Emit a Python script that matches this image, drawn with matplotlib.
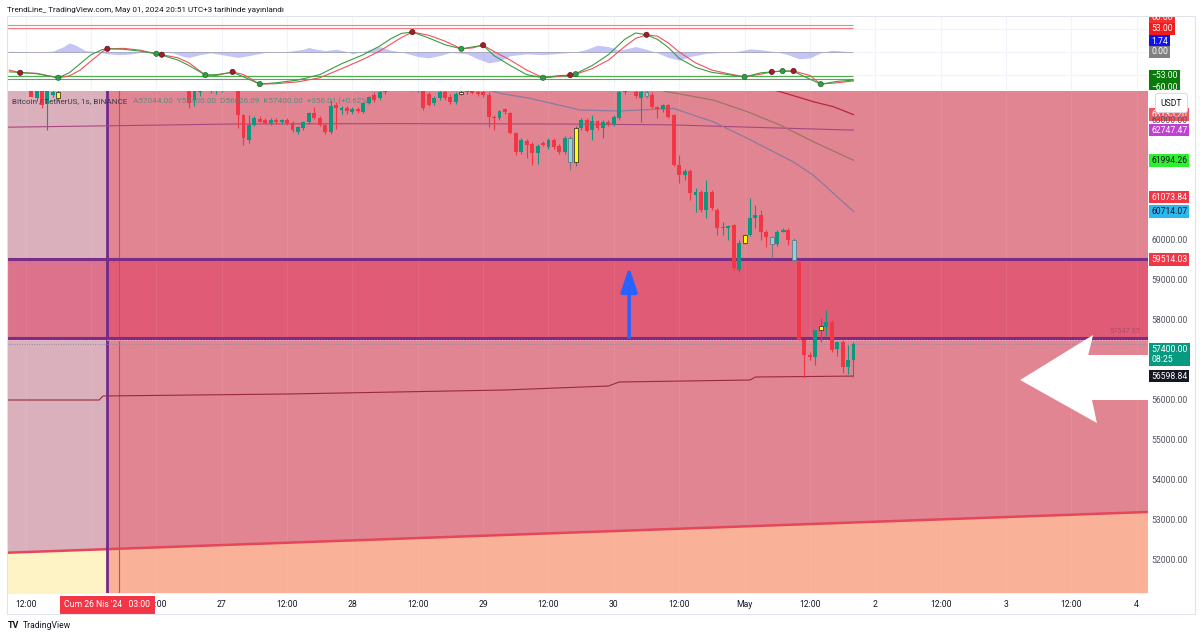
import numpy as np
import matplotlib
matplotlib.use("Agg")
import matplotlib.pyplot as plt
from matplotlib.patches import Polygon, Rectangle
from matplotlib.transforms import blended_transform_factory

plt.rcParams['font.family'] = ['Roboto', 'DejaVu Sans']

# hourly BTCUSDT candles, hour index counted from 25 Apr 2024 00:00
first_hour = 9
opens = [64250, 64150, 64050, 64000, 63950, 63550, 63800, 63400, 63620, 63700,
         63800, 63950, 64050, 64200, 64350, 64300, 64400, 64500, 64450, 64300,
         64250, 64200, 64100, 64150, 64250, 64300, 64150, 64050, 64100, 63950,
         64000, 63900, 63850, 63850, 63500, 63700, 63850, 63900, 63750, 63800,
         63900, 63950, 63900, 63125, 62500, 62875, 63025, 62990, 62920, 63000,
         62940, 63000, 62930, 62700, 62800, 62950, 63175, 63050, 62875, 62700,
         63375, 63250, 63300, 63200, 63280, 63200, 63425, 63625, 63550, 63700,
         63850, 63950, 63900, 64000, 63900, 63780, 63750, 63650, 63425, 63550,
         63700, 63575, 63450, 63650, 63700, 63800, 63700, 63700, 63625, 63075,
         63050, 63275, 63175, 62675, 62200, 62475, 62400, 62175, 62425, 62325,
         62500, 62350, 62200, 62550, 61950, 62800, 63000, 62750, 62975, 62800,
         62950, 62900, 63050, 63700, 63900, 63700, 63550, 63700, 63625, 63325,
         63275, 63375, 63125, 61875, 61625, 61725, 61125, 61200, 60750, 61200,
         60750, 60300, 60310, 60375, 59250, 59925, 60125, 60550, 60625, 60200,
         60075, 59900, 60230, 60250, 60000, 59450, 57500, 57125, 57075, 57750,
         57825, 57950, 57275, 57450, 56825, 57000]
highs = [64400, 64300, 64200, 64150, 64050, 63900, 63850, 63800, 63800, 63900,
         64000, 64100, 64250, 64400, 64500, 64450, 64600, 64650, 64550, 64400,
         64350, 64300, 64250, 64300, 64400, 64350, 64250, 64200, 64150, 64100,
         64050, 64000, 63950, 63950, 63800, 63900, 64000, 63950, 63900, 63950,
         64000, 64050, 63950, 63150, 63125, 63100, 63100, 63050, 63050, 63050,
         63020, 63050, 62980, 62850, 62980, 63200, 63320, 63100, 62900, 63500,
         63450, 63350, 63350, 63320, 63320, 63450, 63600, 63700, 63800, 63900,
         64000, 64100, 64050, 64100, 63950, 63900, 63800, 63700, 63600, 63750,
         63750, 63650, 63700, 63760, 63850, 63850, 63780, 63750, 63700, 63120,
         63250, 63300, 63200, 62700, 62550, 62520, 62450, 62400, 62480, 62550,
         62550, 62400, 62600, 62600, 62850, 63050, 63050, 63125, 63000, 63000,
         63000, 63125, 63800, 64000, 64100, 63900, 63800, 63800, 63700, 63350,
         63400, 63400, 63150, 62125, 61780, 61780, 61300, 61250, 61500, 61250,
         60800, 60450, 60375, 60400, 60000, 60150, 61050, 60875, 60750, 60250,
         60100, 60250, 60300, 60300, 60050, 59500, 57500, 57200, 57750, 58050,
         58250, 58000, 57450, 57500, 57375, 57450]
lows = [64100, 64000, 63900, 63850, 63600, 63480, 63300, 62750, 63580, 63480,
        63750, 63850, 64000, 64100, 64250, 64150, 64300, 64350, 64250, 64150,
        64100, 64050, 63950, 64050, 64150, 64100, 64000, 63950, 63900, 63850,
        63850, 63800, 63750, 63300, 63350, 63600, 63750, 63680, 63650, 63700,
        63800, 63850, 62800, 62375, 62425, 62850, 62950, 62900, 62880, 62900,
        62900, 62880, 62700, 62650, 62750, 62900, 63030, 62850, 62650, 62650,
        62780, 63150, 63150, 63150, 63180, 63180, 63400, 63450, 63500, 63650,
        63800, 63850, 63800, 63850, 63720, 63700, 63250, 63350, 63380, 63500,
        63500, 63400, 63400, 63620, 63650, 63640, 63600, 63580, 62825, 62750,
        63000, 63150, 62650, 62125, 62150, 62050, 61875, 61900, 62350, 62280,
        62280, 62150, 62150, 61750, 61850, 62750, 62700, 62500, 62750, 62550,
        62850, 62850, 63000, 63650, 63800, 63550, 62950, 63550, 63300, 63050,
        63200, 63050, 61850, 61425, 61500, 61000, 60700, 60700, 60550, 60750,
        60125, 60125, 60000, 59250, 59200, 59900, 60100, 60300, 60000, 59825,
        59550, 59850, 60200, 59875, 59450, 57500, 56550, 57000, 56875, 57450,
        57600, 57200, 57100, 56675, 56650, 56575]
closes = [64150, 64050, 64000, 63950, 63575, 63800, 63380, 63750, 63700, 63550,
          63950, 64050, 64200, 64350, 64300, 64400, 64500, 64450, 64300, 64250,
          64200, 64100, 64150, 64250, 64300, 64150, 64050, 64100, 63950, 64000,
          63900, 63850, 63800, 63420, 63750, 63850, 63900, 63720, 63800, 63900,
          63950, 63900, 63125, 62550, 62875, 63050, 62950, 62920, 63000, 62940,
          63000, 62930, 62750, 62820, 62950, 63175, 63050, 62875, 62700, 63350,
          63300, 63300, 63225, 63280, 63230, 63425, 63575, 63500, 63700, 63850,
          63950, 63900, 64000, 63900, 63780, 63850, 63300, 63375, 63550, 63700,
          63550, 63450, 63650, 63700, 63800, 63680, 63650, 63620, 63075, 63050,
          63225, 63200, 62675, 62200, 62500, 62375, 62175, 62350, 62375, 62500,
          62325, 62200, 62550, 61950, 62800, 63000, 62725, 62975, 62800, 62950,
          62900, 63075, 63700, 63900, 63950, 63600, 63700, 63600, 63325, 63275,
          63375, 63075, 61875, 61625, 61725, 61175, 61200, 60750, 61200, 60800,
          60300, 60330, 60340, 59300, 59925, 60125, 60550, 60625, 60200, 60075,
          59900, 60200, 60260, 60000, 59500, 57500, 57125, 57075, 57750, 57850,
          57950, 57250, 57450, 56825, 57000, 57400]
hours = np.arange(first_hour, first_hour + len(opens))

# signal candles painted by the indicator
yellow_bars = [18, 92, 113, 144, 158]
cyan_bars = [112, 126, 149, 153]
hollow_bars = [151]

# moving averages (hour, price)
ma_magenta_h = [8.5, 30, 50, 80, 110, 130, 145, 164]
ma_magenta_p = [62820, 62860, 62900, 62910, 62900, 62880, 62820, 62747]
ma_grey_h = [93, 99.1, 104.6, 113.8, 121.1, 130.9, 138.2, 144.5, 152.9, 156.6, 164]
ma_grey_p = [63900, 63667, 63542, 63250, 63225, 63292, 62958, 62542, 61958, 61625, 60714]
ma_brown_h = [127, 129.8, 138.2, 144.5, 150.5, 156.6, 164]
ma_brown_p = [63800, 63708, 63500, 63208, 62875, 62458, 61994]
ma_red_h = [148, 150.5, 153.6, 156.6, 160.3, 164]
ma_red_p = [63800, 63708, 63583, 63458, 63333, 63135]
trail_h = [8.5, 25.5, 26.2, 60, 100, 119, 121, 145, 146, 164]
trail_p = [56000, 56000, 56100, 56150, 56250, 56350, 56450, 56500, 56575, 56598]

# long trend line and zones
trend_h = [0, 220]
trend_p = [52140, 53210]
zone_top = 59514.03
zone_bottom = 57547.35
zone_start = 27          # Cum 26 Nis '24 03:00
last_price = 57400.00

# oscillator
osc_h = [9, 11, 14, 18, 20, 22, 24, 26, 27, 30, 33, 36, 37, 40, 42, 45, 47, 50, 52, 55,
         58, 62, 66, 70, 74, 77, 79, 81, 83, 86, 89, 92, 94, 96, 98, 101, 104, 107, 110,
         112, 113, 116, 119, 122, 124, 126, 128, 130, 132, 135, 138, 141, 144, 147, 149,
         151, 153, 156, 158, 161, 164]
wt1 = [-44, -45, -48, -57, -46, -26, -6, 5, 7, 6, 2, -4, -7, -18, -30, -51, -50, -45, -55, -71,
       -68, -62, -50, -26, -6, 13, 29, 41, 44, 31, 16, 7, 11, 15, -8, -30, -50, -57, -52,
       -52, -48, -30, -6, 28, 42, 38, 28, 10, -14, -34, -45, -50, -55, -46, -44,
       -42, -43, -60, -71, -65, -62]
wt2 = [-40, -46, -47, -57, -53, -40, -20, 0, 7, 8, 4, -4, -6, -13, -24, -51, -52, -44, -50, -71,
       -70, -66, -57, -37, -16, 2, 17, 32, 44, 37, 24, 7, 9, 15, 1, -18, -40, -57, -54,
       -50, -49, -37, -18, 12, 30, 38, 35, 20, 0, -24, -40, -48, -55, -49, -44,
       -42, -42, -52, -71, -68, -64]
dot_h = [11, 18, 27, 36, 37, 45, 50, 55, 83, 92, 96, 107, 112, 113, 126, 144, 149, 151, 153, 158]
dot_v = [-46, -57, 7, -4, -6, -51, -44, -71, 44, 7, 15, -57, -51, -49, 38, -55, -44, -42, -42, -71]
dot_up = [False, True, False, True, False, True, False, True, False, True, False, True,
          False, True, False, True, False, True, False, True]
area_h = [9, 14, 17, 19, 20, 21, 23, 25, 27, 29, 31, 33, 36, 39, 41, 42, 44, 46, 49, 51, 53,
          56, 60, 63, 64, 65, 67, 69, 71, 72, 74, 77, 79, 81, 84, 86, 88, 90, 93, 95, 97,
          99, 101, 104, 107, 110, 113, 115, 117, 119, 121, 123, 124, 126, 128, 130, 132,
          134, 137, 140, 143, 145, 147, 150, 152, 154, 156, 158, 160, 162, 164]
area_v = [2, -1, 2, 12, 20, 16, 3, 1, -4, -6, -5, -1, 1, -2, -10, -12, -6, -2, -8, -12, -8,
          -1, 1, 6, 10, 7, 3, 6, 1, -4, 1, 12, 4, 0, -10, -13, -8, -1, -4, -15, -24,
          -20, -8, -4, -6, -3, 0, 6, 15, 12, 4, 9, 12, 6, -2, -12, -18,
          -10, -3, -1, 2, 7, 5, 0, -6, -15, -13, -2, 4, 2, 0]
osc_levels_red = [60, 53]
osc_levels_green = [-53, -60]

tick_hours = list(range(12, 217, 12))
# the "26" label sits under the red crosshair date label, so it is left empty
tick_labels = ["12:00", "", "12:00", "27", "12:00", "28", "12:00", "29", "12:00", "30",
               "12:00", "May", "12:00", "2", "12:00", "3", "12:00", "4"]
price_ticks = [52000, 53000, 54000, 55000, 56000, 57000, 58000, 59000, 60000, 63000]

UP, DOWN = '#089981', '#f23645'
W, H = 1200, 638
XMIN, XMAX = 8.575, 218.08
YMIN, YMAX = 51175, 63725
FS = 6.2

fig = plt.figure(figsize=(12, 6.38), dpi=100)


def px_axes(x0, y0, x1, y1):
    return fig.add_axes([x0 / W, 1 - y1 / H, (x1 - x0) / W, (y1 - y0) / H])


ax_osc = px_axes(7, 16, 1148, 90)
ax = px_axes(7, 91, 1148, 593)
ax_rs_osc = px_axes(1148, 16, 1195, 90)
ax_rs = px_axes(1148, 91, 1195, 593)

# ---------------- main price pane ----------------
ax.set_xlim(XMIN, XMAX)
ax.set_ylim(YMIN, YMAX)
xs = np.array([XMIN, XMAX])
tr = np.interp(xs, trend_h, trend_p)
ax.fill_between(xs, tr, 70000, color='#d9b0bc', lw=0, zorder=0)
ax.fill_between(xs, 40000, tr, color='#fdf3c5', lw=0, zorder=0)
ax.axvspan(zone_start, XMAX, color='#f23645', alpha=0.35, lw=0, zorder=1)
ax.axhspan(zone_bottom, zone_top, color=(224 / 255, 53 / 255, 91 / 255), alpha=0.5, lw=0, zorder=1.5)
ax.plot(trend_h, trend_p, color='#e4465a', lw=1.8, zorder=2)
for g in tick_hours:
    ax.axvline(g, color='white', alpha=0.07, lw=0.8, zorder=1.6)

ax.axvline(zone_start, color='#6e2b8c', lw=2, zorder=2.5)
ax.axvline(29.2, color='#e5404f', lw=0.8, zorder=2.5)
ax.axhline(zone_top, color='#7a2d86', lw=2.2, zorder=2.5)
ax.axhline(zone_bottom, color='#7a2d86', lw=2.2, zorder=2.5)
ax.axhline(zone_bottom - 50, color='#f4c0d4', lw=0.8, ls=(0, (1, 1.5)), zorder=2.6)
ax.axhline(last_price, color='#8c8ea0', lw=0.7, ls=(0, (1, 1.5)), zorder=2.6)

ax.plot(ma_magenta_h, ma_magenta_p, color='#a8477f', lw=0.8, zorder=3)
ax.plot(ma_grey_h, ma_grey_p, color='#8a7b9e', lw=0.9, zorder=3)
ax.plot(ma_brown_h, ma_brown_p, color='#9d7664', lw=0.9, zorder=3)
ax.plot(ma_red_h, ma_red_p, color='#b8283a', lw=0.9, zorder=3)
ax.plot(trail_h, trail_p, color='#9a2a3c', lw=0.8, zorder=3)

o = np.array(opens, float)
c = np.array(closes, float)
face = np.where(c >= o, UP, DOWN).astype(object)
wick = face.copy()
edge = face.copy()
lws = np.zeros(len(o))
for i, hh in enumerate(hours):
    if hh in yellow_bars:
        face[i], edge[i], wick[i], lws[i] = '#ffff00', '#3a3a3a', '#6a6a6a', 0.6
    elif hh in cyan_bars:
        face[i], edge[i], wick[i], lws[i] = '#7fd6ea', '#707a80', '#7a7a80', 0.6
    elif hh in hollow_bars:
        face[i], lws[i] = 'none', 0.7
ax.vlines(hours, lows, highs, colors=list(wick), lw=0.8, zorder=4)
ax.bar(hours, np.maximum(np.abs(c - o), 25), bottom=np.minimum(o, c), width=0.72,
       color=list(face), edgecolor=list(edge), linewidth=lws, zorder=5)

# arrows
ax.annotate("", xy=(122.8, 59330), xytext=(122.8, 57570),
            arrowprops=dict(arrowstyle="-|>,head_length=1.5,head_width=0.5",
                            color='#2962ff', lw=2.6, shrinkA=0, shrinkB=0), zorder=6)
white_arrow = [(194.6, 56500), (208.0, 57625), (207.1, 57125), (222, 57125),
               (222, 56000), (207.8, 56000), (208.7, 55425)]
ax.add_patch(Polygon(white_arrow, closed=True, color='white', lw=0, zorder=6))
ax.text(213.9, 57725, "57547.35", fontsize=5.3, color='#b24a6c', ha='center', va='center', zorder=6)

# header text
ax.text(0.0044, 0.98, "Bitcoin / TetherUS, 1s, BINANCE", transform=ax.transAxes,
        fontsize=5.9, color='#3b3d4a', va='center', ha='left', zorder=8)
ax.text(0.1104, 0.98, "A57044.00  Y57400.00  D56626.09  K57400.00  +356.01 (+0.62%)",
        transform=ax.transAxes, fontsize=5.9, color='#3f8f80', va='center', ha='left',
        alpha=0.85, zorder=8)

ax.set_yticks([])
ax.set_xticks(tick_hours)
ax.set_xticklabels(tick_labels)
ax.tick_params(axis='x', length=0, pad=5.0, labelsize=FS, labelcolor='#131722')
for s in ax.spines.values():
    s.set_visible(False)
tb = blended_transform_factory(ax.transData, ax.transAxes)
ax.text(zone_start, -0.0239, "Cum 26 Nis '24   03:00", transform=tb, fontsize=FS,
        color='white', ha='center', va='center', clip_on=False, zorder=10,
        bbox=dict(boxstyle='square,pad=0.5', fc='#f23645', ec='none'))

# ---------------- oscillator pane ----------------
ax_osc.set_xlim(XMIN, XMAX)
ax_osc.set_ylim(-84, 79.5)
for g in tick_hours:
    ax_osc.axvline(g, color='#f0f3fa', lw=0.8, zorder=0)
for g in [50, 0, -50]:
    ax_osc.axhline(g, color='#f0f3fa', lw=0.8, zorder=0)
ax_osc.fill_between(area_h, 0, area_v, color='#8a8af0', alpha=0.5, lw=0, zorder=1)
ax_osc.hlines([0], XMIN, 164, color='#a0a3b8', lw=0.6, zorder=1)
ax_osc.hlines(osc_levels_red, XMIN, 164, color='#f77c80', lw=0.8, zorder=2)
ax_osc.hlines(osc_levels_green, XMIN, 164, color='#4caf50', lw=0.8, zorder=2)
ax_osc.plot(osc_h, wt2, color='#f0505e', lw=0.8, zorder=3)
ax_osc.plot(osc_h, wt1, color='#3a9e3e', lw=0.8, zorder=3)
ax_osc.scatter(dot_h, dot_v, s=14,
               c=['#2ea043' if u else '#9f1d2c' for u in dot_up],
               edgecolors=['#1d6b2a' if u else '#6a1019' for u in dot_up],
               linewidths=0.5, zorder=4)
ax_osc.set_xticks([])
ax_osc.set_yticks([])
for s in ax_osc.spines.values():
    s.set_visible(False)

# ---------------- right price scales ----------------
for a in (ax_rs, ax_rs_osc):
    a.set_xlim(0, 1)
    a.set_xticks([])
    a.set_yticks([])
    for s in a.spines.values():
        s.set_visible(False)
ax_rs.set_ylim(YMIN, YMAX)
ax_rs_osc.set_ylim(-84, 79.5)


def scale_label(a, y, text, bg=None, fg='#131722', x=0.07, z=3, pad=0.22):
    kw = {}
    if bg is not None:
        kw['bbox'] = dict(boxstyle='square,pad=%s' % pad, fc=bg, ec='none')
    a.text(x, y, text, fontsize=FS, color=fg, ha='left', va='center',
           clip_on=True, zorder=z, **kw)


for p in price_ticks:
    scale_label(ax_rs, p, f"{p:.2f}", fg='#50535e', z=2)
scale_label(ax_rs, 63135.20, "63135.20", bg='#f7525f', fg='white', z=1)
scale_label(ax_rs, 62747.47, "62747.47", bg='#c23fd3', fg='white')
scale_label(ax_rs, 61994.26, "61994.26", bg='#2ef02e', fg='#131722')
scale_label(ax_rs, 61073.84, "61073.84", bg='#f23645', fg='white')
scale_label(ax_rs, 60714.07, "60714.07", bg='#2bb8f0', fg='#131722')
scale_label(ax_rs, 59514.03, "59514.03", bg='#f23645', fg='white')
scale_label(ax_rs, 57140, f"{last_price:.2f}\n08:25", bg='#089981', fg='white', z=4)
scale_label(ax_rs, 56598.84, "56598.84", bg='#131722', fg='white')
ax_rs.text(0.5, 63425, "USDT", fontsize=FS, color='#131722', ha='center', va='center',
           zorder=5, bbox=dict(boxstyle='round,pad=0.6,rounding_size=0.3', fc='white', ec='#d1d4dc', lw=0.6))

scale_label(ax_rs_osc, 77, "60.00", bg='#f23030', fg='white')
scale_label(ax_rs_osc, 51, "53.00", bg='#f21a1a', fg='white')
scale_label(ax_rs_osc, 24, "1.74", bg='#1010f0', fg='white')
scale_label(ax_rs_osc, 0, "0.00", bg='#808080', fg='white')
scale_label(ax_rs_osc, -53, "\u221253.00", bg='#0a7a0a', fg='white')
scale_label(ax_rs_osc, -79.5, "\u221260.00", bg='#0a7a0a', fg='white')

# frame and page text
fig.patches.append(Rectangle((7 / W, 1 - 614 / H), (1195 - 7) / W, (614 - 16) / H,
                             transform=fig.transFigure, fill=False, ec='#e0e3eb', lw=0.8))
fig.text(7 / W, 1 - 10 / H, "TrendLine_ TradingView.com, May 01, 2024 20:51 UTC+3 tarihinde yay\u0131nland\u0131",
         fontsize=5.9, color='#131722', ha='left', va='center')
fig.text(8 / W, 1 - 626 / H, "TV", fontsize=6.5, weight='bold', color='#131722', ha='left', va='center')
fig.text(23 / W, 1 - 626 / H, "TradingView", fontsize=FS, color='#131722', ha='left', va='center')

fig.savefig("out.png", dpi=100, facecolor='white')
